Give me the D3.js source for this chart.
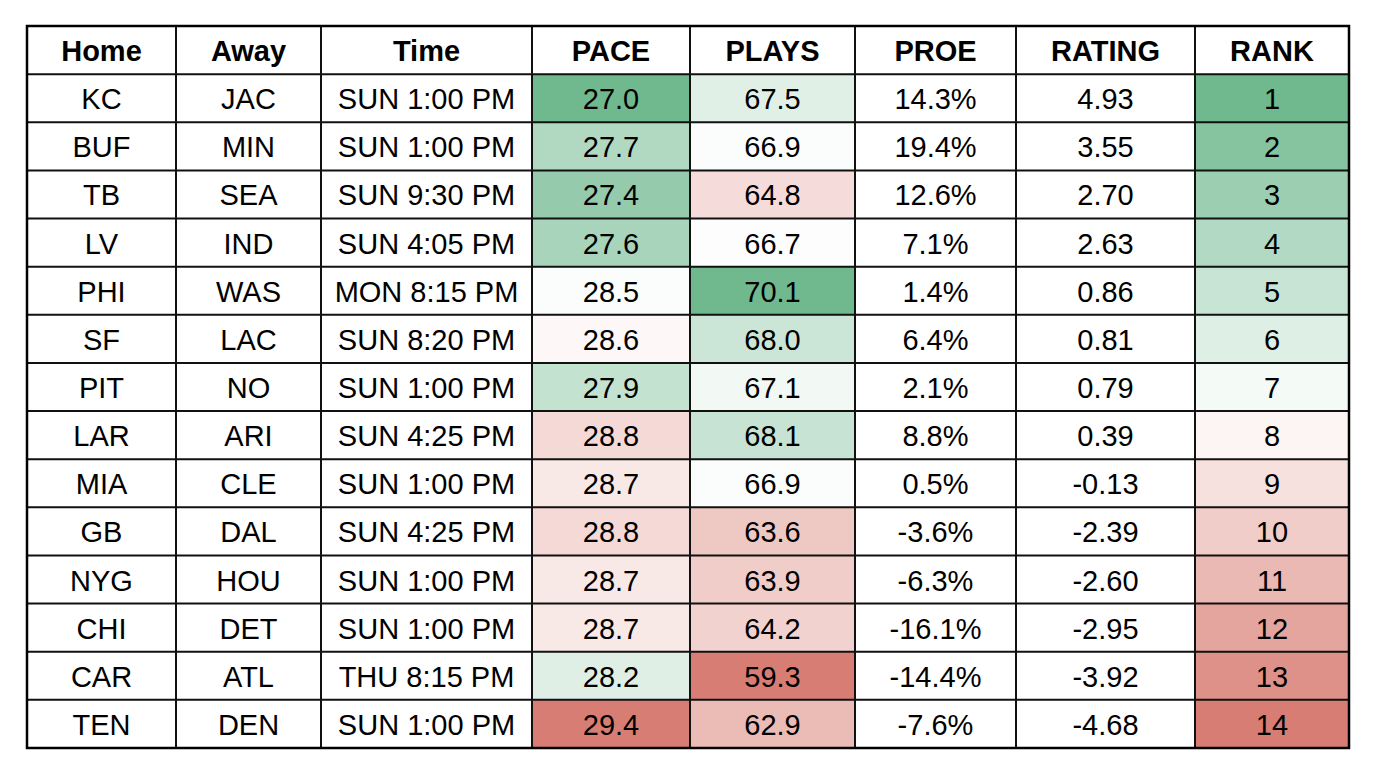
<!DOCTYPE html>
<html>
<head>
<meta charset="utf-8">
<script src="https://cdn.jsdelivr.net/npm/d3@7"></script>
<style>
  html, body { margin: 0; padding: 0; background: #fff; }
  svg { display: block; font-family: "Liberation Sans", Arial, sans-serif; }
</style>
</head>
<body>
<svg id="table" width="1374" height="782"></svg>
<script>
// ---------- Data ----------
const columns = ["Home", "Away", "Time", "PACE", "PLAYS", "PROE", "RATING", "RANK"];
const home   = ["KC", "BUF", "TB", "LV", "PHI", "SF", "PIT", "LAR", "MIA", "GB", "NYG", "CHI", "CAR", "TEN"];
const away   = ["JAC", "MIN", "SEA", "IND", "WAS", "LAC", "NO", "ARI", "CLE", "DAL", "HOU", "DET", "ATL", "DEN"];
const times  = ["SUN 1:00 PM", "SUN 1:00 PM", "SUN 9:30 PM", "SUN 4:05 PM", "MON 8:15 PM", "SUN 8:20 PM",
                "SUN 1:00 PM", "SUN 4:25 PM", "SUN 1:00 PM", "SUN 4:25 PM", "SUN 1:00 PM", "SUN 1:00 PM",
                "THU 8:15 PM", "SUN 1:00 PM"];
const pace   = [27.0, 27.7, 27.4, 27.6, 28.5, 28.6, 27.9, 28.8, 28.7, 28.8, 28.7, 28.7, 28.2, 29.4];
const plays  = [67.5, 66.9, 64.8, 66.7, 70.1, 68.0, 67.1, 68.1, 66.9, 63.6, 63.9, 64.2, 59.3, 62.9];
const proe   = [14.3, 19.4, 12.6, 7.1, 1.4, 6.4, 2.1, 8.8, 0.5, -3.6, -6.3, -16.1, -14.4, -7.6];
const rating = [4.93, 3.55, 2.70, 2.63, 0.86, 0.81, 0.79, 0.39, -0.13, -2.39, -2.60, -2.95, -3.92, -4.68];
const rank   = [1, 2, 3, 4, 5, 6, 7, 8, 9, 10, 11, 12, 13, 14];

// ---------- Layout ----------
const svg = d3.select("#table");
const colEdges = [27, 176, 321, 532, 690, 855, 1016, 1195, 1349];
const tableTop = 26, tableBottom = 748;
const fontSize = 29;

const y = d3.scaleBand()
  .domain(d3.range(home.length + 1))   // header + rows
  .range([tableTop, tableBottom])
  .padding(0);

const GREEN = "#70b98f", WHITE = "#ffffff", RED = "#d87d73";

// green-white-red scale, midpoint at the median (like the spreadsheet default)
function colorScale(values, lowIsGood) {
  const ext = d3.extent(values);
  const mid = d3.median(values);
  const rng = lowIsGood ? [GREEN, WHITE, RED] : [RED, WHITE, GREEN];
  return d3.scaleLinear().domain([ext[0], mid, ext[1]]).range(rng).interpolate(d3.interpolateRgb);
}
const paceColor  = colorScale(pace, true);
const playsColor = colorScale(plays, false);
const rankColor  = colorScale(rank, true);

const fmt1 = d3.format(".1f"), fmt2 = d3.format(".2f");
const rows = home.map((h, i) => [
  { text: h },
  { text: away[i] },
  { text: times[i] },
  { text: fmt1(pace[i]),  fill: paceColor(pace[i]) },
  { text: fmt1(plays[i]), fill: playsColor(plays[i]) },
  { text: fmt1(proe[i]).replace("−", "-") + "%" },
  { text: fmt2(rating[i]).replace("−", "-") },
  { text: String(rank[i]), fill: rankColor(rank[i]) }
]);

// ---------- Cells ----------
const g = svg.append("g");

rows.forEach((r, i) => {
  const ry = y(i + 1);
  r.forEach((c, j) => {
    if (c.fill) {
      g.append("rect")
        .attr("x", colEdges[j]).attr("y", ry)
        .attr("width", colEdges[j + 1] - colEdges[j])
        .attr("height", y.bandwidth())
        .attr("fill", c.fill);
    }
  });
});

// header text
columns.forEach((c, j) => {
  g.append("text")
    .attr("x", (colEdges[j] + colEdges[j + 1]) / 2)
    .attr("y", y(0) + y.bandwidth() / 2 + 11)
    .attr("text-anchor", "middle")
    .attr("font-size", fontSize)
    .attr("font-weight", "bold")
    .attr("fill", "#000")
    .text(c);
});

// body text
rows.forEach((r, i) => {
  const cy = y(i + 1) + y.bandwidth() / 2 + 11;
  r.forEach((c, j) => {
    g.append("text")
      .attr("x", (colEdges[j] + colEdges[j + 1]) / 2)
      .attr("y", cy)
      .attr("text-anchor", "middle")
      .attr("font-size", fontSize)
      .attr("fill", "#000")
      .text(c.text);
  });
});

// ---------- Grid lines ----------
const grid = svg.append("g").attr("stroke", "#111").attr("stroke-width", 2);
d3.range(home.length + 2).forEach(k => {
  const yy = k <= home.length ? y(k) : tableBottom;
  grid.append("line").attr("x1", colEdges[0]).attr("x2", colEdges[colEdges.length - 1])
    .attr("y1", yy).attr("y2", yy);
});
colEdges.forEach(xx => {
  grid.append("line").attr("x1", xx).attr("x2", xx).attr("y1", tableTop).attr("y2", tableBottom);
});
// outer border a bit heavier
svg.append("rect")
  .attr("x", colEdges[0]).attr("y", tableTop)
  .attr("width", colEdges[colEdges.length - 1] - colEdges[0])
  .attr("height", tableBottom - tableTop)
  .attr("fill", "none").attr("stroke", "#000").attr("stroke-width", 2.5);
</script>
</body>
</html>
